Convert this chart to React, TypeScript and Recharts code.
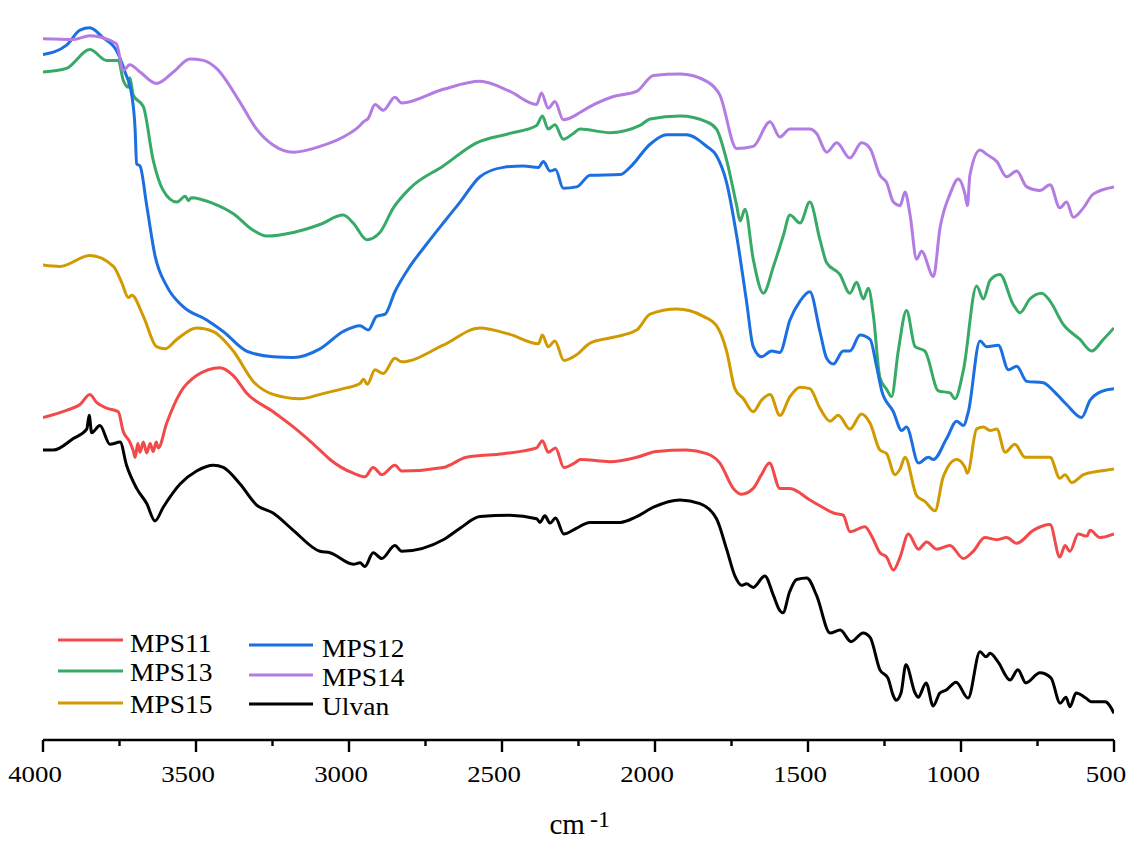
import React from "react";
import { LineChart, Line, XAxis, YAxis, Legend } from "recharts";

// wavenumber (cm-1), relative transmittance (a.u., 0-100)
const mps11: [number, number][] = [
  [4000, 44.6], [3923, 45.6], [3879, 46.4], [3847, 47.8], [3825, 46.7], [3792, 45.9], [3754, 45.4], [3738, 42.7],
  [3716, 41.2], [3705, 40.0], [3699, 39.1], [3690, 41.0], [3683, 39.8], [3672, 41.2], [3661, 39.7], [3650, 41.0],
  [3640, 39.9], [3630, 41.2], [3623, 40.4], [3596, 43.8], [3552, 48.0], [3498, 50.4], [3422, 51.5], [3378, 50.4],
  [3335, 48.0], [3248, 45.4], [3182, 43.3], [3095, 40.1], [3062, 38.8], [2986, 36.9], [2948, 36.4], [2921, 37.7],
  [2893, 36.7], [2850, 38.0], [2828, 37.2], [2692, 37.7], [2616, 39.1], [2496, 39.6], [2387, 40.4], [2368, 41.4],
  [2349, 39.8], [2325, 40.4], [2298, 37.7], [2256, 38.5], [2245, 38.8], [2147, 38.5], [2060, 39.1], [1995, 39.9],
  [1897, 40.1], [1831, 39.6], [1788, 38.3], [1744, 34.8], [1717, 34.0], [1679, 34.8], [1652, 36.7], [1626, 38.3],
  [1592, 34.8], [1559, 34.8], [1494, 33.2], [1461, 32.4], [1417, 31.4], [1385, 31.1], [1363, 28.8], [1314, 29.5],
  [1292, 28.2], [1265, 25.9], [1243, 25.3], [1221, 23.5], [1199, 25.3], [1172, 28.5], [1139, 26.4], [1112, 27.4],
  [1080, 26.4], [1036, 26.9], [992, 25.1], [960, 26.1], [922, 28.0], [883, 27.7], [851, 28.0], [818, 27.2],
  [764, 29.0], [709, 29.8], [677, 25.3], [660, 26.9], [644, 26.1], [617, 28.5], [589, 28.2], [578, 29.0],
  [546, 28.0], [500, 28.5],
];

const mps12: [number, number][] = [
  [4000, 94.8], [3923, 96.1], [3879, 98.2], [3847, 98.5], [3803, 97.1], [3759, 95.3], [3732, 92.4], [3710, 89.2],
  [3699, 84.5], [3694, 79.7], [3683, 79.4], [3661, 73.9], [3634, 67.0], [3596, 62.8], [3541, 59.9], [3465, 58.1],
  [3411, 56.5], [3335, 53.8], [3247, 53.0], [3182, 52.9], [3095, 54.1], [3019, 56.5], [2964, 57.3], [2937, 56.7],
  [2910, 58.6], [2882, 58.9], [2850, 62.0], [2801, 65.5], [2746, 68.6], [2692, 71.5], [2637, 74.4], [2572, 77.9],
  [2496, 79.2], [2430, 79.4], [2381, 79.2], [2365, 80.0], [2343, 78.7], [2325, 78.9], [2300, 76.3], [2256, 76.5],
  [2212, 78.1], [2114, 78.2], [2082, 79.2], [2016, 82.4], [1962, 83.7], [1897, 83.7], [1831, 82.1], [1799, 80.8],
  [1766, 77.1], [1733, 69.7], [1701, 60.7], [1679, 54.4], [1652, 53.0], [1619, 53.8], [1592, 53.6], [1559, 58.1],
  [1526, 60.7], [1494, 62.0], [1461, 56.5], [1439, 52.8], [1417, 52.0], [1385, 53.8], [1363, 53.8], [1330, 56.0],
  [1297, 55.4], [1276, 51.7], [1259, 48.3], [1221, 45.4], [1194, 42.8], [1178, 43.3], [1139, 38.3], [1107, 39.1],
  [1090, 38.8], [1047, 41.7], [1014, 44.1], [992, 43.5], [976, 45.4], [938, 55.2], [916, 54.4], [878, 54.6],
  [845, 51.2], [818, 51.7], [785, 49.6], [731, 49.4], [698, 48.3], [655, 46.4], [606, 44.6], [578, 47.0],
  [535, 48.3], [500, 48.6],
];

const mps13: [number, number][] = [
  [4000, 92.4], [3923, 92.9], [3847, 95.5], [3792, 94.0], [3754, 94.0], [3738, 91.3], [3721, 90.3], [3716, 91.6],
  [3705, 89.2], [3672, 87.6], [3640, 80.2], [3607, 76.0], [3563, 74.4], [3535, 75.2], [3525, 74.6], [3515, 75.0],
  [3443, 74.2], [3378, 72.8], [3313, 70.5], [3269, 69.7], [3182, 70.2], [3095, 71.3], [3019, 72.6], [2986, 71.5],
  [2942, 69.2], [2899, 70.2], [2855, 73.6], [2801, 76.3], [2692, 79.4], [2583, 82.6], [2474, 83.9], [2387, 85.0],
  [2368, 86.3], [2349, 84.5], [2327, 85.1], [2300, 83.1], [2267, 83.9], [2245, 84.5], [2147, 84.0], [2049, 85.0],
  [2016, 85.9], [1918, 86.3], [1831, 85.5], [1799, 84.5], [1766, 80.2], [1733, 73.9], [1722, 71.8], [1706, 73.4],
  [1679, 66.5], [1646, 61.8], [1613, 65.5], [1581, 69.7], [1559, 72.6], [1526, 71.5], [1494, 74.4], [1461, 69.2],
  [1439, 66.0], [1396, 64.4], [1363, 61.8], [1341, 63.3], [1319, 61.0], [1303, 62.5], [1286, 58.6], [1265, 50.1],
  [1243, 48.5], [1227, 47.5], [1205, 53.8], [1178, 59.4], [1150, 54.4], [1118, 53.8], [1074, 48.3], [1036, 48.0],
  [1020, 47.2], [992, 51.2], [949, 62.8], [927, 61.0], [905, 63.6], [873, 64.4], [829, 60.2], [807, 59.1],
  [775, 61.0], [736, 61.8], [709, 60.7], [666, 57.5], [611, 55.4], [573, 53.8], [535, 55.4], [500, 57.0],
];

const mps14: [number, number][] = [
  [4000, 97.0], [3901, 96.9], [3847, 97.4], [3760, 96.3], [3738, 92.6], [3716, 93.4], [3683, 92.4], [3629, 90.8],
  [3574, 92.4], [3520, 94.2], [3476, 94.0], [3433, 92.9], [3356, 88.2], [3302, 84.5], [3248, 82.3], [3182, 81.3],
  [3095, 82.1], [3019, 83.4], [2964, 85.0], [2953, 85.5], [2937, 86.0], [2915, 87.9], [2888, 87.1], [2850, 88.9],
  [2828, 88.1], [2692, 90.0], [2572, 91.1], [2474, 89.7], [2387, 87.9], [2371, 89.5], [2349, 87.4], [2327, 88.3],
  [2300, 85.8], [2256, 86.5], [2245, 86.8], [2136, 89.0], [2060, 89.7], [2005, 91.9], [1918, 92.1], [1831, 91.1],
  [1788, 89.2], [1733, 81.8], [1679, 82.1], [1624, 85.5], [1592, 83.4], [1559, 84.5], [1494, 84.5], [1472, 83.9],
  [1439, 81.3], [1406, 82.6], [1363, 80.5], [1325, 82.6], [1297, 81.8], [1265, 78.1], [1243, 77.1], [1221, 74.4],
  [1199, 73.9], [1183, 75.8], [1167, 72.8], [1145, 66.5], [1129, 67.6], [1090, 64.1], [1069, 70.7], [1036, 75.5],
  [1009, 77.6], [987, 75.5], [979, 73.9], [971, 78.1], [938, 81.6], [916, 81.0], [883, 80.0], [851, 77.9],
  [818, 78.7], [785, 76.5], [742, 76.0], [709, 76.8], [677, 73.6], [655, 74.4], [633, 72.3], [600, 73.6],
  [568, 75.5], [500, 76.5],
];

const mps15: [number, number][] = [
  [4000, 65.7], [3945, 65.5], [3847, 67.0], [3770, 65.5], [3743, 63.3], [3721, 61.2], [3710, 61.5], [3672, 58.6],
  [3629, 54.4], [3601, 54.1], [3563, 55.4], [3498, 57.0], [3443, 56.5], [3378, 53.8], [3313, 49.6], [3248, 47.8],
  [3160, 47.2], [3095, 47.8], [3019, 48.6], [2964, 49.3], [2953, 49.9], [2940, 49.2], [2915, 51.2], [2888, 50.7],
  [2850, 52.8], [2828, 52.3], [2692, 54.6], [2572, 57.0], [2474, 56.1], [2381, 54.8], [2368, 56.0], [2349, 54.4],
  [2327, 55.2], [2298, 52.5], [2256, 53.3], [2212, 54.9], [2136, 55.7], [2060, 56.7], [2016, 58.9], [1929, 59.6],
  [1842, 58.6], [1799, 57.3], [1766, 53.8], [1739, 48.6], [1711, 47.2], [1679, 45.4], [1652, 47.0], [1624, 47.8],
  [1592, 44.9], [1559, 47.5], [1526, 48.8], [1494, 48.6], [1461, 45.9], [1428, 44.1], [1401, 44.9], [1363, 43.0],
  [1325, 45.1], [1297, 43.8], [1265, 40.1], [1243, 39.6], [1216, 36.7], [1199, 37.5], [1183, 39.1], [1145, 33.8],
  [1118, 33.0], [1085, 31.7], [1058, 36.4], [1014, 38.8], [987, 37.7], [979, 36.9], [949, 43.0], [927, 43.3],
  [905, 42.8], [883, 43.0], [856, 39.8], [824, 40.9], [791, 39.1], [742, 39.1], [709, 39.1], [677, 36.2],
  [660, 36.7], [638, 35.6], [600, 36.7], [546, 37.2], [500, 37.5],
];

const ulvan: [number, number][] = [
  [4000, 40.1], [3966, 40.1], [3901, 41.7], [3857, 43.0], [3849, 44.9], [3841, 42.5], [3814, 43.5], [3781, 40.9],
  [3748, 41.2], [3727, 38.0], [3694, 34.8], [3661, 32.7], [3634, 30.3], [3607, 32.2], [3552, 35.4], [3498, 37.2],
  [3443, 38.0], [3411, 37.7], [3356, 35.4], [3302, 32.5], [3248, 31.4], [3182, 29.0], [3095, 26.1], [3062, 25.9],
  [2986, 24.3], [2964, 24.5], [2948, 24.0], [2921, 25.9], [2893, 25.1], [2850, 26.9], [2828, 26.1], [2692, 27.7],
  [2637, 29.3], [2572, 30.9], [2474, 31.1], [2387, 30.6], [2376, 30.1], [2360, 31.0], [2343, 30.0], [2325, 30.7],
  [2298, 28.5], [2256, 29.3], [2213, 30.1], [2114, 30.1], [2060, 30.9], [2005, 32.2], [1918, 33.2], [1853, 32.7],
  [1799, 30.6], [1766, 26.4], [1739, 22.7], [1717, 21.4], [1701, 21.6], [1679, 21.1], [1641, 22.7], [1613, 20.0],
  [1592, 17.9], [1582, 17.6], [1560, 20.5], [1537, 22.2], [1504, 22.4], [1472, 20.0], [1428, 14.8], [1395, 15.2],
  [1359, 13.6], [1320, 14.8], [1297, 14.2], [1265, 9.7], [1239, 8.6], [1222, 6.2], [1212, 5.5], [1196, 6.5],
  [1180, 10.4], [1150, 6.5], [1140, 5.9], [1114, 7.9], [1091, 4.7], [1069, 6.5], [1049, 6.9], [1016, 8.0],
  [977, 5.8], [938, 12.2], [918, 11.5], [905, 12.0], [879, 10.8], [840, 8.3], [814, 9.7], [788, 7.9],
  [742, 9.3], [706, 8.6], [676, 5.1], [657, 5.9], [644, 4.6], [624, 6.5], [592, 5.8], [575, 5.3],
  [529, 5.3], [500, 3.7],
];

const seriesNames = ["MPS11", "MPS12", "MPS13", "MPS14", "MPS15", "Ulvan"];
const seriesColors = ["#F24A4A", "#1C6FE0", "#38AA68", "#B27CE2", "#D09A00", "#000000"];
const seriesValues = [mps11, mps12, mps13, mps14, mps15, ulvan];
const drawOrder = [0, 2, 4, 1, 3, 5];

const xTicks = [4000, 3750, 3500, 3250, 3000, 2750, 2500, 2250, 2000, 1750, 1500, 1250, 1000, 750, 500];
const xLabel = "cm";
const xLabelSup = "-1";

const FONT = "Liberation Serif, DejaVu Serif, serif";
const fontStyle = { fontFamily: FONT };

const toRows = (arr: [number, number][]) => arr.map(([w, t]) => ({ w, t }));

const AxisTick = (props: any) => {
  const { x, y, payload } = props;
  const major = payload.value % 500 === 0;
  return (
    <g>
      <line x1={x} x2={x} y1={y} y2={y + (major ? 12 : 6)} stroke="#000" strokeWidth={2.4} />
      {major && (
        <text
          transform={`translate(${x - 8},${y + 42}) scale(1.12,1)`}
          textAnchor="middle"
          style={fontStyle}
          fontSize={24}
          fill="#000"
        >
          {payload.value}
        </text>
      )}
    </g>
  );
};

const AxisLabel = (props: any) => {
  const vb = props.viewBox || {};
  const cx = vb.x + vb.width / 2;
  return (
    <text x={cx - 29} y={834} style={fontStyle} fill="#000" textAnchor="start">
      <tspan fontSize={29}>{xLabel}</tspan>
      <tspan fontSize={24} dx={5} dy={-7}>{xLabelSup}</tspan>
    </text>
  );
};

const legendRows = [
  { col: 0, row: 0, idx: 0 },
  { col: 1, row: 0, idx: 1 },
  { col: 0, row: 1, idx: 2 },
  { col: 1, row: 1, idx: 3 },
  { col: 0, row: 2, idx: 4 },
  { col: 1, row: 2, idx: 5 },
];

const LegendContent = () => {
  const lineY = [[40, 71, 103], [45, 75, 104]];
  const textY = [[52, 81, 113], [57, 86, 115]];
  const lineX = [[58, 123], [249, 313]];
  const textX = [130, 322];
  return (
    <svg width={480} height={130} style={{ display: "block", overflow: "visible" }}>
      {legendRows.map((e) => (
        <g key={e.idx}>
          <line
            x1={lineX[e.col][0]}
            x2={lineX[e.col][1]}
            y1={lineY[e.col][e.row]}
            y2={lineY[e.col][e.row]}
            stroke={seriesColors[e.idx]}
            strokeWidth={3}
          />
          <text
            transform={`translate(${textX[e.col]},${textY[e.col][e.row]}) scale(1.1,1)`}
            style={fontStyle}
            fontSize={25}
            fill="#000"
          >
            {seriesNames[e.idx]}
          </text>
        </g>
      ))}
    </svg>
  );
};

export default function App() {
  return (
    <div style={{ position: "absolute", left: 0, top: 0, width: 1133, height: 842, background: "#fff", fontFamily: FONT }}>
      <LineChart width={1133} height={842} margin={{ top: 17, right: 19, left: 43, bottom: 0 }} style={fontStyle}>
        <XAxis
          xAxisId="x"
          type="number"
          dataKey="w"
          domain={[500, 4000]}
          reversed
          allowDataOverflow
          ticks={xTicks}
          interval={0}
          height={102}
          tickSize={0}
          tickMargin={0}
          tickLine={false}
          tick={<AxisTick />}
          axisLine={{ stroke: "#000", strokeWidth: 2.4 }}
          label={<AxisLabel />}
        />
        <XAxis
          xAxisId="top"
          orientation="top"
          type="number"
          domain={[500, 4000]}
          reversed
          height={0}
          tick={false}
          tickLine={false}
          axisLine={{ stroke: "#000", strokeWidth: 2.4 }}
        />
        <YAxis
          yAxisId="y"
          type="number"
          domain={[0, 100]}
          width={0}
          tick={false}
          tickLine={false}
          axisLine={{ stroke: "#000", strokeWidth: 2.6 }}
        />
        <YAxis
          yAxisId="r"
          orientation="right"
          type="number"
          domain={[0, 100]}
          width={0}
          tick={false}
          tickLine={false}
          axisLine={{ stroke: "#000", strokeWidth: 2.6 }}
        />
        <Legend
          layout="vertical"
          align="center"
          verticalAlign="middle"
          content={<LegendContent />}
          wrapperStyle={{ left: 0, top: 600, width: 480, height: 130 }}
        />
        {drawOrder.map((i) => (
          <Line
            key={seriesNames[i]}
            xAxisId="x"
            yAxisId="y"
            name={seriesNames[i]}
            data={toRows(seriesValues[i])}
            dataKey="t"
            type="monotone"
            stroke={seriesColors[i]}
            strokeWidth={3}
            dot={false}
            activeDot={false}
            isAnimationActive={false}
          />
        ))}
      </LineChart>
    </div>
  );
}
